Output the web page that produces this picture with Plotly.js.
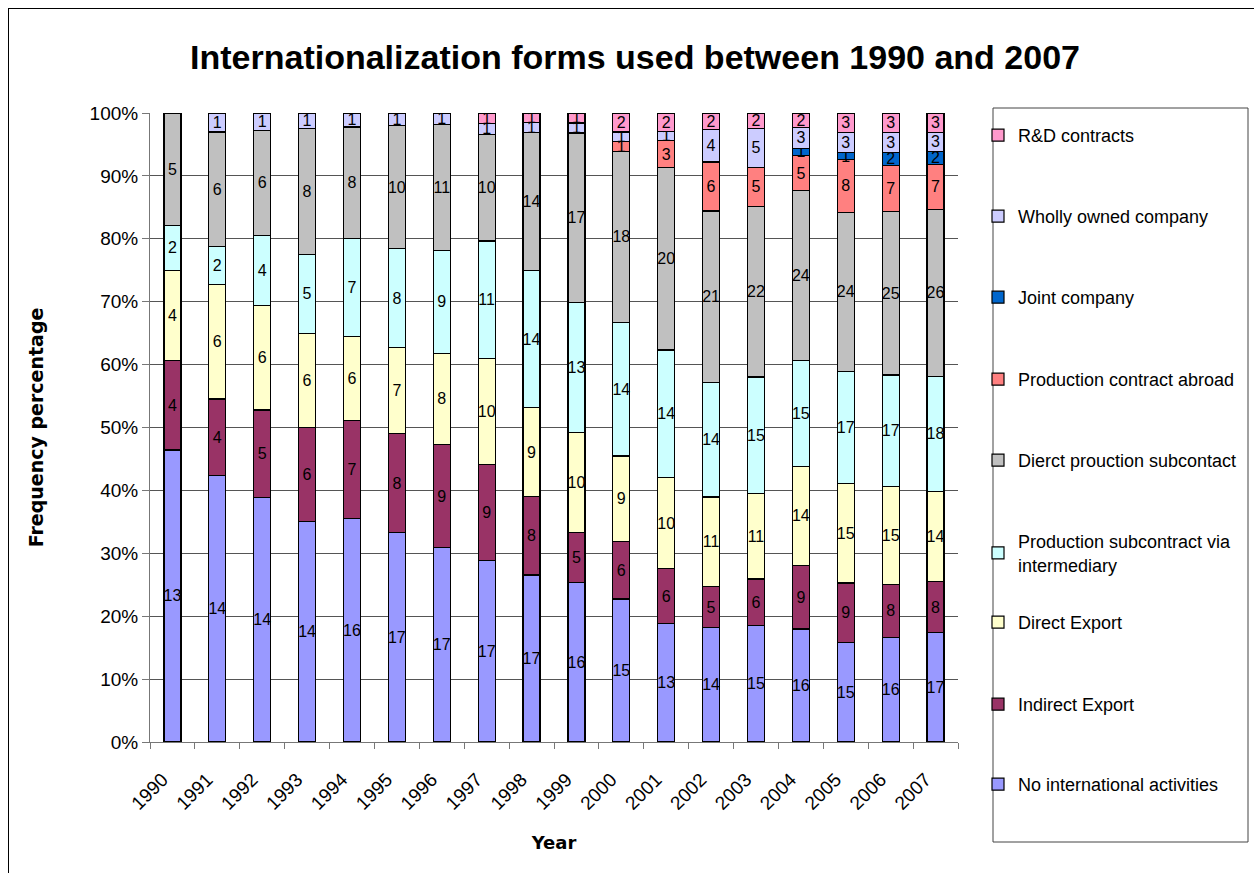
<!DOCTYPE html>
<html>
<head>
<meta charset="utf-8">
<script src="https://cdn.plot.ly/plotly-3.0.1.min.js"></script>
<style>
  html, body { margin: 0; padding: 0; background: #fff; }
  #chart { position: absolute; left: 0; top: 0; width: 1254px; height: 873px; }
  #frame { position: absolute; left: 8px; top: 8px; width: 1400px; height: 1000px; border: 1px solid #000; pointer-events: none; }
</style>
</head>
<body>
<div id="chart"></div>
<div id="frame"></div>
<script>
const years = ['1990','1991','1992','1993','1994','1995','1996','1997','1998','1999','2000','2001','2002','2003','2004','2005','2006','2007'];

const noInternational   = [13,14,14,14,16,17,17,17,17,16,15,13,14,15,16,15,16,17];
const indirectExport    = [4,4,5,6,7,8,9,9,8,5,6,6,5,6,9,9,8,8];
const directExport      = [4,6,6,6,6,7,8,10,9,10,9,10,11,11,14,15,15,14];
const subcontractInterm = [2,2,4,5,7,8,9,11,14,13,14,14,14,15,15,17,17,18];
const directSubcontract = [5,6,6,8,8,10,11,10,14,17,18,20,21,22,24,24,25,26];
const contractAbroad    = [0,0,0,0,0,0,0,0,0,0,1,3,6,5,5,8,7,7];
const jointCompany      = [0,0,0,0,0,0,0,0,0,0,0,0,0,0,1,1,2,2];
const whollyOwned       = [0,1,1,1,1,1,1,1,1,1,1,1,4,5,3,3,3,3];
const rdContracts       = [0,0,0,0,0,0,0,1,1,1,2,2,2,2,2,3,3,3];

const seriesNames = ['No international activities','Indirect Export','Direct Export',
  'Production subcontract via<br>intermediary','Dierct prouction subcontact',
  'Production contract abroad','Joint company','Wholly owned company','R&D contracts'];
const seriesValues = [noInternational, indirectExport, directExport, subcontractInterm,
  directSubcontract, contractAbroad, jointCompany, whollyOwned, rdContracts];
const seriesColors = ['#9999FF','#993366','#FFFFCC','#CCFFFF','#C0C0C0','#FF8080','#0066CC','#CCCCFF','#FF99CC'];

// legend label centres (px from top), bottom series first
const legendCenters = [784, 704, 622, 541, 460, 379, 297, 216, 135];

const L = 150, R = 296, T = 113, B = 131, W = 1254, H = 873;
const pw = W - L - R, ph = H - T - B;
const px2x = p => (p - L) / pw;
const px2y = p => (H - B - p) / ph;

const traces = seriesValues.map((vals, i) => ({
  type: 'bar',
  name: seriesNames[i],
  x: years,
  y: vals,
  text: vals.map(v => v === 0 ? '' : String(v)),
  textposition: 'inside',
  insidetextanchor: 'middle',
  textangle: 0,
  constraintext: 'none',
  textfont: { family: 'Liberation Sans, Arial, sans-serif', size: 16, color: '#000' },
  marker: { color: seriesColors[i], line: { color: '#000', width: 1.2 } },
  hoverinfo: 'skip',
  showlegend: true,
  legend: i === 0 ? 'legend' : 'legend' + (i + 1)
}));

const layout = {
  width: W, height: H,
  margin: { l: L, r: R, t: T, b: B },
  paper_bgcolor: '#fff', plot_bgcolor: '#fff',
  showlegend: true,
  barmode: 'stack', barnorm: 'percent', bargap: 0.62,
  uniformtext: { minsize: 16, mode: 'show' },
  font: { family: 'Liberation Sans, Arial, sans-serif', color: '#000' },
  title: {
    text: '<b>Internationalization forms used between 1990 and 2007</b>',
    font: { family: 'Liberation Sans, Arial, sans-serif', size: 34, color: '#000' },
    x: 635 / W, xref: 'container', xanchor: 'center',
    y: 1 - 57 / H, yref: 'container', yanchor: 'middle'
  },
  xaxis: {
    type: 'category',
    tickangle: -45,
    tickfont: { size: 19, color: '#000' },
    ticks: 'outside', ticklen: 6, tickcolor: '#777', tickson: 'boundaries',
    ticklabelstandoff: 18, ticklabelshift: -10,
    showline: true, linecolor: '#777', linewidth: 1,
    showgrid: false,
    title: { text: '<b>Year</b>', font: { family: 'DejaVu Sans, sans-serif', size: 18, color: '#000' }, standoff: 23 },
    automargin: false
  },
  yaxis: {
    range: [0, 100], dtick: 10, ticksuffix: '%',
    tickfont: { size: 19, color: '#000' },
    ticks: 'outside', ticklen: 7, tickcolor: '#777',
    showline: true, linecolor: '#777', linewidth: 1,
    showgrid: true, gridcolor: '#555', gridwidth: 1,
    zeroline: false,
    title: { text: '<b>Frequency percentage</b>', font: { family: 'DejaVu Sans, sans-serif', size: 19, color: '#000' }, standoff: 40 },
    automargin: false
  },
  shapes: [{
    type: 'rect', xref: 'paper', yref: 'paper',
    x0: px2x(993), x1: px2x(1248), y0: px2y(842), y1: px2y(108),
    line: { color: '#444', width: 1 }, fillcolor: 'rgba(0,0,0,0)'
  }]
};

legendCenters.forEach((c, i) => {
  const key = i === 0 ? 'legend' : 'legend' + (i + 1);
  layout[key] = {
    xref: 'container', yref: 'container',
    x: 978 / W, xanchor: 'left',
    y: 1 - (c - 18) / H, yanchor: 'top',
    bgcolor: 'rgba(0,0,0,0)', borderwidth: 0,
    font: { family: 'Liberation Sans, Arial, sans-serif', size: 18, color: '#000' },
    itemclick: false, itemdoubleclick: false
  };
});

Plotly.newPlot('chart', traces, layout, { displayModeBar: false, staticPlot: true });
</script>
</body>
</html>
